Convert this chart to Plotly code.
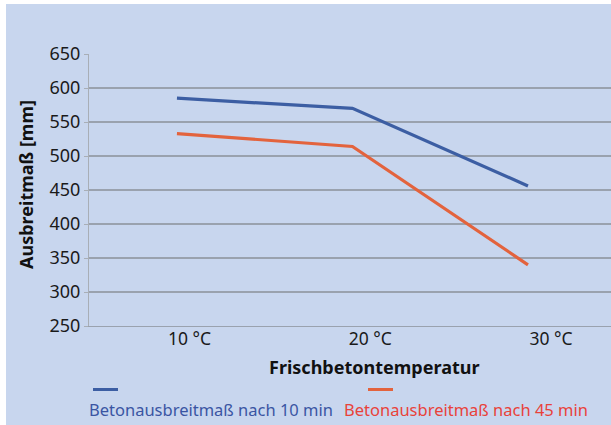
import plotly.graph_objects as go

# Data
categories = ["10 °C", "20 °C", "30 °C"]
blue_values = [585, 570, 456]     # Betonausbreitmaß nach 10 min
orange_values = [533, 514, 340]   # Betonausbreitmaß nach 45 min
y_ticks = [250, 300, 350, 400, 450, 500, 550, 600, 650]

series_names = ["Betonausbreitmaß nach 10 min", "Betonausbreitmaß nach 45 min"]

BG = "#C8D6EE"
BLUE = "#3C5EA3"
ORANGE = "#E3633D"
BLUE_TXT = "#3A55A3"
RED_TXT = "#E8423A"
GRID = "#9AA2AE"
FONT = "Noto Sans"

W, H = 611, 425
L, R, T, B = 89, 0, 54, 99
pw, ph = W - L - R, H - T - B


def px_x(px):
    return (px - L) / pw


def px_y(py):
    return (H - B - py) / ph


fig = go.Figure()
fig.add_trace(go.Scatter(x=categories, y=blue_values, mode="lines",
                         line=dict(color=BLUE, width=3.2), name=series_names[0],
                         showlegend=False))
fig.add_trace(go.Scatter(x=categories, y=orange_values, mode="lines",
                         line=dict(color=ORANGE, width=3.2), name=series_names[1],
                         showlegend=False))
# carrier for the category labels axis
fig.add_trace(go.Scatter(x=categories, y=[None] * len(categories), xaxis="x2",
                         mode="lines", showlegend=False, hoverinfo="skip"))

shapes = [
    # white frame strips
    dict(type="rect", xref="paper", yref="paper", x0=px_x(0), x1=px_x(W + 5),
         y0=px_y(4), y1=px_y(-5), fillcolor="white", line=dict(width=0)),
    dict(type="rect", xref="paper", yref="paper", x0=px_x(-5), x1=px_x(6),
         y0=px_y(H + 5), y1=px_y(-5), fillcolor="white", line=dict(width=0)),
    # legend samples
    dict(type="rect", xref="paper", yref="paper", x0=px_x(93), x1=px_x(118),
         y0=px_y(391), y1=px_y(388), fillcolor=BLUE, line=dict(width=0)),
    dict(type="rect", xref="paper", yref="paper", x0=px_x(368), x1=px_x(393),
         y0=px_y(391), y1=px_y(388), fillcolor=ORANGE, line=dict(width=0)),
]

annotations = [
    dict(text="<b>Frischbetontemperatur</b>", xref="paper", yref="paper",
         x=px_x(374), y=px_y(367), xanchor="center", yanchor="middle",
         showarrow=False, font=dict(family=FONT, size=18, color="#111111")),
    dict(text="<b>Ausbreitmaß [mm]</b>", xref="paper", yref="paper",
         x=px_x(26), y=px_y(185), xanchor="center", yanchor="middle",
         showarrow=False, textangle=-90,
         font=dict(family=FONT, size=18, color="#111111")),
    dict(text=series_names[0], xref="paper", yref="paper",
         x=px_x(87), y=px_y(409), xanchor="left", yanchor="middle",
         showarrow=False, font=dict(family=FONT, size=16.5, color=BLUE_TXT)),
    dict(text=series_names[1], xref="paper", yref="paper",
         x=px_x(342), y=px_y(409), xanchor="left", yanchor="middle",
         showarrow=False, font=dict(family=FONT, size=16.5, color=RED_TXT)),
]

fig.update_layout(
    width=W, height=H,
    margin=dict(l=L, r=R, t=T, b=B, pad=0),
    paper_bgcolor=BG, plot_bgcolor=BG,
    showlegend=False,
    shapes=shapes,
    annotations=annotations,
    xaxis=dict(type="category", range=[-0.501, 2.473], showticklabels=False,
               showgrid=False, zeroline=False, showline=True, linecolor=GRID,
               linewidth=1, ticks=""),
    xaxis2=dict(type="category", overlaying="x", anchor="y", side="bottom",
                range=[-0.556, 2.332], showgrid=False, zeroline=False,
                showline=False, ticks="", tickmode="array",
                tickvals=categories, ticktext=categories,
                tickfont=dict(family=FONT, size=17.5, color="#1a1a1a")),
    yaxis=dict(range=[250, 650], tickmode="array", tickvals=y_ticks,
               showgrid=True, gridcolor=GRID, gridwidth=1.6, zeroline=False,
               showline=True, linecolor="#A8AEB6", linewidth=1,
               ticks="outside", ticklen=4, tickcolor="#A8AEB6",
               tickfont=dict(family=FONT, size=18, color="#1a1a1a")),
)

fig.write_html("out.html")
